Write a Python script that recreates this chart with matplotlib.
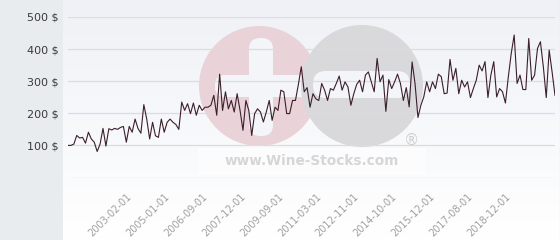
import numpy as np
import matplotlib
matplotlib.use("Agg")
import matplotlib.pyplot as plt
from matplotlib.patches import Circle, Rectangle, FancyBboxPatch

# ---- data ----
prices = [
    100, 100, 104, 131, 123, 125, 107, 141, 120, 110, 81, 104, 153, 98, 152, 148,
    153, 150, 156, 159, 110, 159, 141, 182, 153, 138, 227, 182, 120, 172, 130, 125,
    182, 141, 172, 182, 172, 165, 150,
    235, 209, 230, 199, 232, 194, 225, 209, 219, 219, 225, 256, 194, 322, 209, 267,
    214, 240, 204, 261, 209, 147, 240, 209, 131, 199, 214, 204, 173, 204, 240, 178,
    219, 209, 272, 267, 199, 199, 240, 240, 290, 345, 267, 280, 219, 261, 245, 240,
    293, 272, 240, 277, 272, 293, 316, 272, 298, 282, 225, 261, 290,
    303, 267, 319, 329, 298, 267, 371, 298, 319, 206, 305, 277, 298, 322, 293, 240,
    280, 220, 360, 293, 187, 225, 251, 298, 267, 298, 277, 322, 314, 261, 263, 368,
    303, 340, 261, 303, 282, 298, 249, 277, 303, 350, 332, 361, 249, 319, 361, 251,
    277, 267, 232, 314, 387, 444, 293, 319, 274, 274, 433, 303, 319, 402, 423, 345,
    249, 397, 329, 256,
]
tick_index = [20, 33, 46, 59, 72, 85, 98, 111, 124, 137, 150]
tick_labels = ["2003-02-01", "2005-01-01", "2006-09-01", "2007-12-01", "2009-09-01",
               "2011-03-01", "2012-11-01", "2014-10-01", "2015-12-01", "2017-08-01",
               "2018-12-01"]
y_ticks = [0, 100, 200, 300, 400, 500]
y_labels = ["", "100 $", "200 $", "300 $", "400 $", "500 $"]

W, H = 560, 240
fig = plt.figure(figsize=(W / 100, H / 100), dpi=100)
fig.patch.set_facecolor("white")

# ---- background / watermark layer (pixel coords) ----
bg = fig.add_axes([0, 0, 1, 1], zorder=0)
bg.set_xlim(0, W)
bg.set_ylim(H, 0)
bg.axis("off")
grad = np.linspace(0, 1, 100).reshape(-1, 1)
top = np.array([239, 241, 246]) / 255
bot = np.array([255, 255, 255]) / 255
img = top[None, None, :] * (1 - grad[:, :, None]) + bot[None, None, :] * grad[:, :, None]
bg.imshow(img, extent=[63, W, H, 0], aspect="auto", zorder=0)
bg.add_patch(Rectangle((0, 0), 63, H, color="#e8ecef", zorder=1, lw=0))
bg.plot([559.5, 559.5], [0, H], color="#cfd2d6", lw=0.8, zorder=1)

cut = "#f4f5f8"
bg.add_patch(Circle((259, 86), 60, color="#ead2d9", zorder=2, lw=0))
bg.add_patch(FancyBboxPatch((249, 38), 24, 98, boxstyle="round,pad=0,rounding_size=11",
                            color=cut, zorder=3, lw=0))
bg.add_patch(FancyBboxPatch((215, 75), 100, 22, boxstyle="round,pad=0,rounding_size=10",
                            color=cut, zorder=3, lw=0))
bg.add_patch(Circle((362, 86), 61, color="#d9d9db", zorder=4, lw=0))
bg.add_patch(FancyBboxPatch((313, 71), 97, 27, boxstyle="round,pad=0,rounding_size=13",
                            color=cut, zorder=5, lw=0))
bg.add_patch(Rectangle((198, 148), 228, 27, color="white", alpha=0.5, zorder=5, lw=0))
bg.text(312, 161, "www.Wine-Stocks.com", fontsize=9.8, fontweight="bold",
        color="#d6d6d6", ha="center", va="center", zorder=6)
bg.text(411, 140, "\u00ae", fontsize=11, color="#d0d0d0", ha="center", va="center",
        zorder=6)

# ---- main chart ----
left, right = 68 / W, 555 / W
bottom, topy = (H - 177.5) / H, (H - 17) / H
ax = fig.add_axes([left, bottom, right - left, topy - bottom], zorder=1)
ax.patch.set_visible(False)
x = np.arange(len(prices))
ax.plot(x, prices, color="#3b1f2b", lw=0.8, zorder=3)
ax.set_xlim(0, len(prices) - 1)
ax.set_ylim(0, 500)
ax.set_yticks(y_ticks)
ax.set_yticklabels(y_labels)
ax.grid(axis="y", color="#dcdcdf", lw=0.9)
ax.set_axisbelow(True)
for s in ax.spines.values():
    s.set_visible(False)
ax.tick_params(axis="y", length=0, pad=8, labelsize=8, labelcolor="#3a3a3a")
for lab in ax.get_yticklabels():
    lab.set_x(-0.005)
ax.tick_params(axis="y", pad=5)
ax.set_xticks(tick_index)
ax.set_xticklabels(tick_labels, rotation=45, ha="right", rotation_mode="anchor",
                   fontsize=7, color="#a0a0a0")
ax.tick_params(axis="x", length=0, pad=10)

fig.savefig("out.png", dpi=100)
